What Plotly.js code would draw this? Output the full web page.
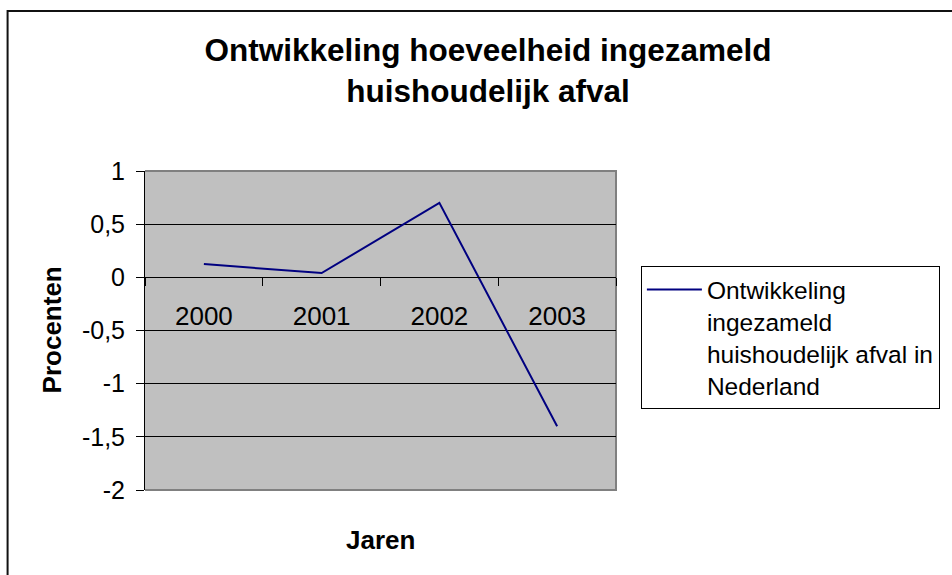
<!DOCTYPE html>
<html>
<head>
<meta charset="utf-8">
<script src="https://cdn.plot.ly/plotly-3.0.1.min.js"></script>
<style>
  html, body { margin: 0; padding: 0; background: #fff; }
  #chart { width: 952px; height: 575px; }
</style>
</head>
<body>
<div id="chart"></div>
<script>
// Data
const years = ['2000', '2001', '2002', '2003'];
const values = [0.125, 0.04, 0.70, -1.40];
const seriesName = 'Ontwikkeling<br>ingezameld<br>huishoudelijk afval in<br>Nederland';
const yTickVals = [1, 0.5, 0, -0.5, -1, -1.5, -2];
const yTickText = ['1', '0,5', '0', '-0,5', '-1', '-1,5', '-2'];
const chartTitle = 'Ontwikkeling hoeveelheid ingezameld<br>huishoudelijk afval';
const xTitle = 'Jaren';
const yTitle = 'Procenten';

const FONT = 'Liberation Sans, Arial, sans-serif';

const trace = {
  x: years,
  y: values,
  type: 'scatter',
  mode: 'lines',
  name: seriesName,
  line: { color: '#000080', width: 2 },
  showlegend: true
};

// plot area in pixels: x 145..618, y 171..490
const L = 145, R = 952 - 618, T = 171, B = 575 - 490;
const PW = 952 - L - R, PH = 575 - T - B;
const px = v => (v - L) / PW;
const py = v => (575 - B - v) / PH;

const layout = {
  width: 952,
  height: 575,
  margin: { l: L, r: R, t: T, b: B, pad: 0 },
  paper_bgcolor: '#ffffff',
  plot_bgcolor: '#c0c0c0',
  font: { family: FONT, size: 26, color: '#000' },
  title: {
    text: chartTitle,
    font: { family: FONT, size: 31.5, color: '#000', weight: 'bold' },
    xref: 'container', yref: 'container',
    x: 488 / 952, xanchor: 'center',
    y: 1 - 61 / 575, yanchor: 'top'
  },
  xaxis: {
    type: 'category',
    range: [-0.5, 3.5],
    anchor: 'free',
    position: 2 / 3,
    showgrid: false,
    zeroline: false,
    showline: true,
    linecolor: '#000',
    linewidth: 1,
    ticks: 'outside',
    tickson: 'boundaries',
    ticklen: 8,
    tickwidth: 1,
    tickcolor: '#000',
    ticklabelstandoff: 15,
    tickfont: { family: FONT, size: 26, color: '#000' },
    fixedrange: true
  },
  yaxis: {
    range: [-2, 1],
    tickvals: yTickVals,
    ticktext: yTickText,
    showgrid: true,
    gridcolor: '#000',
    gridwidth: 1,
    zeroline: false,
    showline: true,
    linecolor: '#000',
    linewidth: 1,
    ticks: 'outside',
    ticklen: 8,
    tickcolor: '#000',
    ticklabelstandoff: 6,
    tickfont: { family: FONT, size: 25, color: '#000' },
    fixedrange: true
  },
  legend: {
    x: px(643), xanchor: 'left',
    y: py(266), yanchor: 'top',
    bgcolor: '#fff',
    bordercolor: '#000',
    borderwidth: 1,
    valign: 'top',
    itemwidth: 55,
    font: { family: FONT, size: 24.5, color: '#000' }
  },
  annotations: [
    {
      text: xTitle, xref: 'paper', yref: 'paper',
      x: px(382), y: py(540), xanchor: 'center', yanchor: 'middle',
      showarrow: false,
      font: { family: FONT, size: 26, color: '#000', weight: 'bold' }
    },
    {
      text: yTitle, xref: 'paper', yref: 'paper',
      x: px(52), y: py(330), xanchor: 'center', yanchor: 'middle',
      textangle: -90, showarrow: false,
      font: { family: FONT, size: 26, color: '#000', weight: 'bold' }
    }
  ],
  shapes: [
    // plot area gray border (right & bottom)
    { type: 'path', xref: 'paper', yref: 'paper',
      path: 'M 0 0 L 1 0 L 1 1 L 0 1',
      line: { color: '#808080', width: 2 }, layer: 'below' },
    // outer chart border (left & top), extends off canvas right/bottom
    { type: 'path', xref: 'paper', yref: 'paper',
      path: `M ${px(7)} ${py(620)} L ${px(7)} ${py(11)} L ${px(1000)} ${py(11)}`,
      line: { color: '#111', width: 2 } }
  ],
  showlegend: true
};

Plotly.newPlot('chart', [trace], layout, { displayModeBar: false, staticPlot: true });
</script>
</body>
</html>
